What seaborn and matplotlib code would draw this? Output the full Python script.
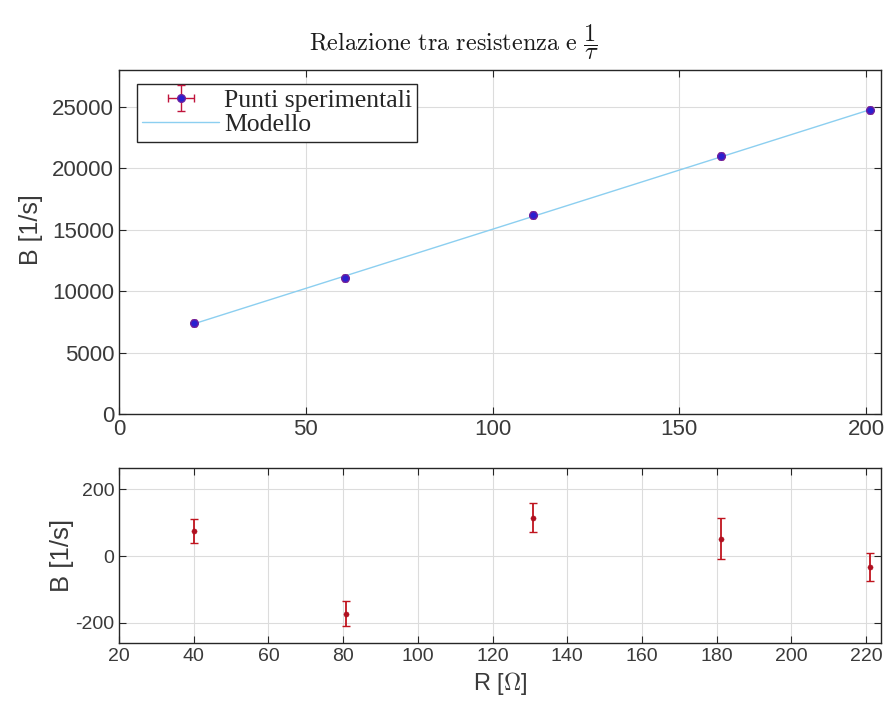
import numpy as np
import pandas as pd
import matplotlib
matplotlib.use("Agg")
import matplotlib.pyplot as plt
import seaborn as sns

# ---- data ----
R = [20.0, 60.6, 110.8, 161.2, 201.0]            # resistance [Ohm]
B = [7410, 11075, 16195, 20985, 24730]            # B [1/s]
B_err = [35, 38, 42, 62, 41]
R_err = [0.5, 0.5, 0.5, 0.5, 0.5]
model_R = [20.0, 201.0]
model_B = [7335, 24765]
res_R = [40.1, 80.7, 130.9, 181.3, 221.1]
res_B = [75, -172, 115, 52, -33]
res_err = [35, 38, 42, 62, 41]

top_yticks = [0, 5000, 10000, 15000, 20000, 25000]
top_xticks = [0, 50, 100, 150, 200]
bot_xticks = [20, 40, 60, 80, 100, 120, 140, 160, 180, 200, 220]
bot_yticks = [-200, 0, 200]

sns.set_theme(style="whitegrid")
plt.rcParams['font.family'] = ['Liberation Sans', 'DejaVu Sans']
plt.rcParams['mathtext.fontset'] = 'cm'
plt.rcParams['axes.unicode_minus'] = False

fig = plt.figure(figsize=(8.84, 7.10), dpi=100)
ax1 = fig.add_axes([0.1346, 0.4169, 0.9966 - 0.1346, 0.9014 - 0.4169])
ax2 = fig.add_axes([0.1346, 0.0944, 0.9966 - 0.1346, 0.3408 - 0.0944])

tick_col = '#3a3a3a'
grid_col = '#dcdcdc'
for ax in (ax1, ax2):
    ax.set_facecolor('white')
    ax.grid(True, color=grid_col, linewidth=0.8)
    for s in ax.spines.values():
        s.set_color('#262626')
        s.set_linewidth(1.0)
    ax.tick_params(direction='in', top=True, right=True, bottom=True, left=True,
                   length=5, width=0.8, colors='#262626', labelcolor=tick_col)

# ---- top plot ----
df = pd.DataFrame({'R': R, 'B': B})
dfm = pd.DataFrame({'R': model_R, 'B': model_B})
sns.lineplot(data=dfm, x='R', y='B', ax=ax1, color='#8ccff0', linewidth=1.0,
             label='Modello', zorder=2)
eb = ax1.errorbar(R, B, yerr=B_err, xerr=R_err, fmt='o', color='#c0143c',
                  mfc='#2a20d0', mec='#6a1fa0', markersize=5.5, elinewidth=1.0,
                  capsize=3, label='Punti sperimentali', zorder=3)
ax1.set_xlim(0, 204)
ax1.set_ylim(0, 28000)
ax1.set_xticks(top_xticks)
ax1.set_yticks(top_yticks)
ax1.tick_params(labelsize=16)
ax1.set_xlabel('')
ax1.set_ylabel('B [1/s]', fontsize=18, color=tick_col)
ax1.yaxis.set_label_coords(-0.1, 0.535)
ax1.set_title(r'$\mathrm{Relazione\ tra\ resistenza\ e\ }\dfrac{1}{\tau}$',
              fontsize=17.5, color='#1a1a1a', pad=14, x=0.44)
h, l = ax1.get_legend_handles_labels()
order = [l.index('Punti sperimentali'), l.index('Modello')]
leg = ax1.legend([h[i] for i in order], [l[i] for i in order], loc='upper left',
                 bbox_to_anchor=(18 / 762, 1 - 14 / 344),
                 prop={'family': 'Liberation Serif', 'size': 18.5}, frameon=True,
                 fancybox=False, edgecolor='#262626', framealpha=1,
                 borderpad=0.2, labelspacing=0.05, handlelength=3.0,
                 handletextpad=0.2, borderaxespad=0.0)
leg.get_frame().set_linewidth(1.0)

# ---- residuals ----
dfr = pd.DataFrame({'R': res_R, 'B': res_B})
ax2.errorbar(res_R, res_B, yerr=res_err, fmt='none', ecolor='#c0141e',
             elinewidth=1.3, capsize=3, capthick=1.0, zorder=3)
sns.scatterplot(data=dfr, x='R', y='B', ax=ax2, color='#b01020', s=14,
                edgecolor='#b01020', zorder=4)
ax2.set_xlim(20, 224)
ax2.set_ylim(-260, 263)
ax2.set_xticks(bot_xticks)
ax2.set_yticks(bot_yticks)
ax2.tick_params(labelsize=14)
ax2.set_xlabel(r'R [$\Omega$]', fontsize=17, color=tick_col, labelpad=4)
ax2.set_ylabel('B [1/s]', fontsize=18.5, color=tick_col, labelpad=1)

fig.savefig('out.png', dpi=100)
